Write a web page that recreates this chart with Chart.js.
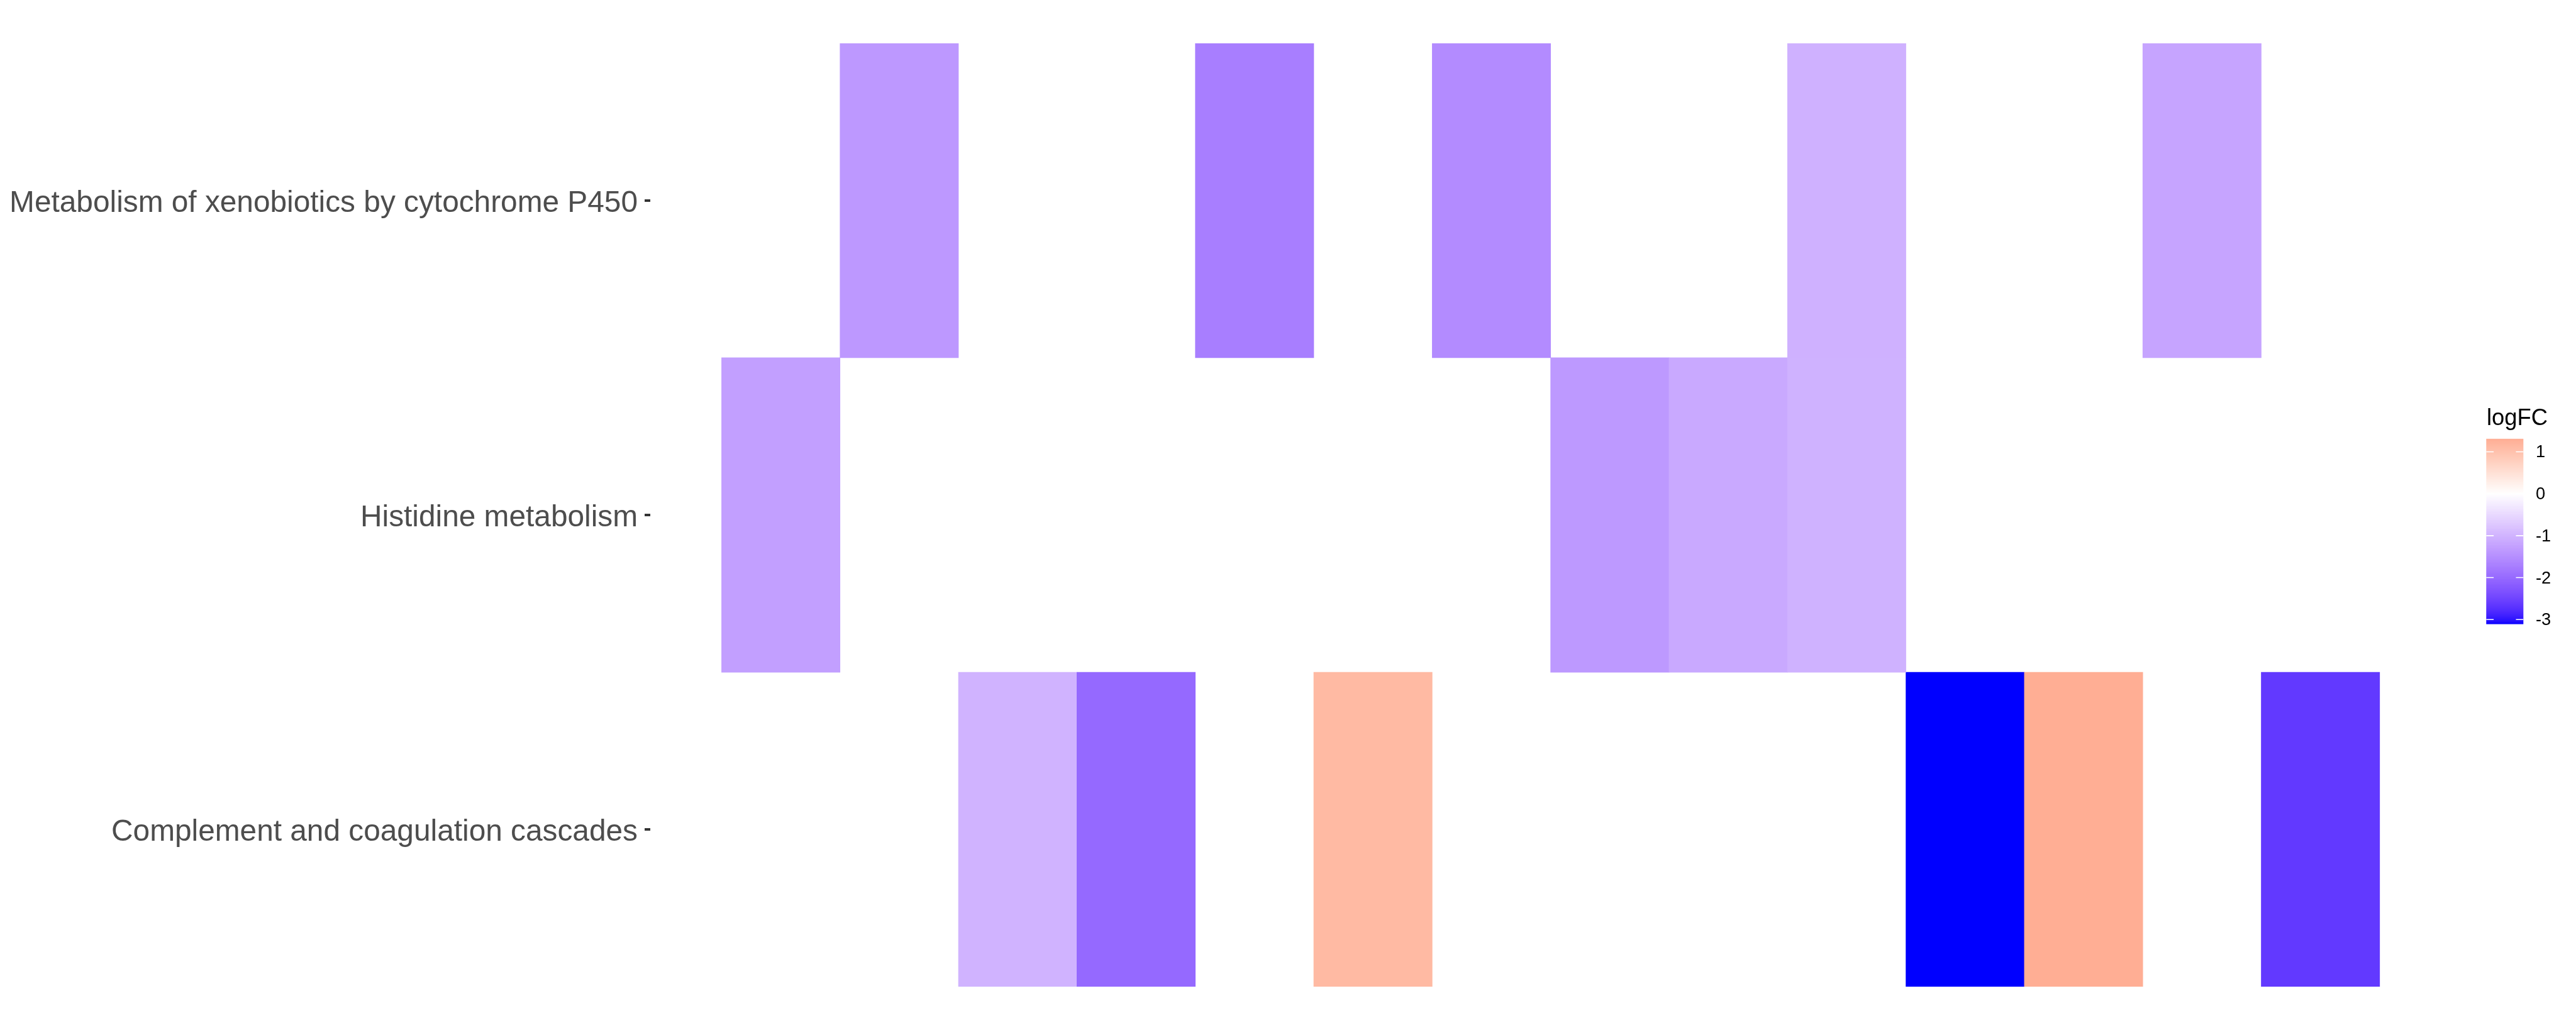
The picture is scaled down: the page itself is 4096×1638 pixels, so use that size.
<!DOCTYPE html>
<html><head><meta charset="utf-8">
<script src="https://cdn.jsdelivr.net/npm/chart.js@4.4.1/dist/chart.umd.min.js"></script>
<style>html,body{margin:0;padding:0;background:#fff;overflow:hidden}canvas{display:block}</style>
</head><body>
<canvas id="c" width="4096" height="1638"></canvas>
<script>
// ---- data ----
const columnIds = ['1','2','3','4','5','6','7','8','9','10','11','12','13','14'];
const pathways = ['Metabolism of xenobiotics by cytochrome P450', 'Histidine metabolism', 'Complement and coagulation cascades'];
const metabolismFC = [null, -1.38, null, null, -1.73, null, -1.56, null, null, -1.04, null, null, -1.22, null];
const histidineFC  = [-1.28, null, null, null, null, null, null, -1.37, -1.15, -1.03, null, null, null, null];
const complementFC = [null, null, -1.02, -2.02, null, 1.12, null, null, null, null, -3.11, 1.31, null, -2.64];
const legendTicks = [1, 0, -1, -2, -3];
const legendTitle = 'logFC';

// ---- colour scale: gradient2 (blue - white - red), Lab interpolation ----
function srgbToLin(c){c/=255;return c<=0.04045?c/12.92:Math.pow((c+0.055)/1.055,2.4);}
function linToSrgb(c){c=c<=0.0031308?12.92*c:1.055*Math.pow(Math.max(c,0),1/2.4)-0.055;return Math.round(Math.max(0,Math.min(1,c))*255);}
const WN=[0.95047,1,1.08883];
function rgbToLab(rgb){const R=srgbToLin(rgb[0]),G=srgbToLin(rgb[1]),B=srgbToLin(rgb[2]);
 const X=0.4124564*R+0.3575761*G+0.1804375*B,Y=0.2126729*R+0.7151522*G+0.0721750*B,Z=0.0193339*R+0.1191920*G+0.9503041*B;
 const f=t=>t>0.008856?Math.cbrt(t):(7.787*t+16/116);
 const fx=f(X/WN[0]),fy=f(Y/WN[1]),fz=f(Z/WN[2]);
 return [116*fy-16,500*(fx-fy),200*(fy-fz)];}
function labToRgb(lab){const fy=(lab[0]+16)/116,fx=fy+lab[1]/500,fz=fy-lab[2]/200;
 const finv=t=>t*t*t>0.008856?t*t*t:(t-16/116)/7.787;
 const X=WN[0]*finv(fx),Y=WN[1]*finv(fy),Z=WN[2]*finv(fz);
 const R=3.2404542*X-1.5371385*Y-0.4985314*Z,G=-0.9692660*X+1.8760108*Y+0.0415560*Z,B=0.0556434*X-0.2040259*Y+1.0572252*Z;
 return [linToSrgb(R),linToSrgb(G),linToSrgb(B)];}
const LOW=rgbToLab([0,0,255]), MID=rgbToLab([255,255,255]), HIGH=rgbToLab([255,0,0]);
const allVals=[...metabolismFC,...histidineFC,...complementFC].filter(v=>v!=null);
const vMin=Math.min(...allVals), vMax=Math.max(...allVals);
const vAbs=Math.max(Math.abs(vMin),Math.abs(vMax));
function fillFor(v){
  const t=v/(2*vAbs)+0.5;
  let a,b,u;
  if(t<0.5){a=LOW;b=MID;u=t/0.5;}else{a=MID;b=HIGH;u=(t-0.5)/0.5;}
  const lab=[a[0]+(b[0]-a[0])*u,a[1]+(b[1]-a[1])*u,a[2]+(b[2]-a[2])*u];
  const c=labToRgb(lab);
  return 'rgb('+c[0]+','+c[1]+','+c[2]+')';
}

// ---- datasets: one floating-bar dataset per pathway row ----
const rowValues=[metabolismFC,histidineFC,complementFC];
const datasets=rowValues.map((vals,r)=>{
  const lo=pathways.length-1-r, hi=lo+1;
  return {
    label:pathways[r],
    data:vals.map((v,i)=>v==null?null:{x:i,y:[lo,hi],v:v}).filter(d=>d),
    backgroundColor:ctx=>ctx.raw?fillFor(ctx.raw.v):'rgba(0,0,0,0)',
    borderWidth:0,
    grouped:false,
    barPercentage:1,
    categoryPercentage:1
  };
});

// ---- colour bar legend ----
const colorbarPlugin={
  id:'colorbar',
  afterDraw(chart){
    const ctx=chart.ctx;
    const x=3953.3, w=59, top=697.8, bottom=992.6, h=bottom-top;
    const yFor=v=>top+(vMax-v)/(vMax-vMin)*h;
    ctx.save();
    for(let i=0;i<Math.ceil(h);i++){
      const v=vMax-(i+0.5)/h*(vMax-vMin);
      ctx.fillStyle=fillFor(v);
      ctx.fillRect(x,top+i,w,Math.min(1.2,bottom-(top+i)));
    }
    ctx.strokeStyle='#ffffff';ctx.lineWidth=1.6;
    const tl=11.8;
    ctx.font='27.3px "Liberation Sans", Arial, sans-serif';
    ctx.fillStyle='#000000';ctx.textAlign='left';ctx.textBaseline='middle';
    legendTicks.forEach(v=>{
      const y=yFor(v);
      ctx.beginPath();ctx.moveTo(x,y);ctx.lineTo(x+tl,y);ctx.moveTo(x+w-tl,y);ctx.lineTo(x+w,y);ctx.stroke();
      ctx.fillText(String(v),4032,y+1.5);
    });
    ctx.font='36.4px "Liberation Sans", Arial, sans-serif';
    ctx.textBaseline='alphabetic';
    ctx.fillText(legendTitle,3954,675.7);
    ctx.restore();
  }
};

new Chart(document.getElementById('c'),{
  type:'bar',
  data:{datasets},
  options:{
    responsive:false,animation:false,devicePixelRatio:1,
    layout:{padding:{left:0,right:199.2,top:68.8,bottom:68.8}},
    plugins:{legend:{display:false},tooltip:{enabled:false}},
    scales:{
      x:{type:'linear',min:-1.1,max:14.1,display:false,offset:false,grid:{offset:false},
         afterBuildTicks:s=>{s.ticks=columnIds.map((_,i)=>({value:i}));}},
      y:{type:'linear',min:0,max:3,position:'left',offset:false,
         afterBuildTicks:s=>{s.ticks=pathways.map((_,i)=>({value:pathways.length-1-i+0.5}));},
         afterFit:s=>{s.width=1034.4;},
         ticks:{autoSkip:false,padding:11,labelOffset:5,color:'#4D4D4D',
                font:{family:'"Liberation Sans", Arial, sans-serif',size:47.8},
                callback:v=>pathways[pathways.length-1-Math.floor(v)]},
         grid:{drawOnChartArea:false,drawTicks:true,tickLength:9.4,color:'#333333',lineWidth:4},
         border:{display:false}}
    }
  },
  plugins:[colorbarPlugin]
});
</script>
</body></html>
